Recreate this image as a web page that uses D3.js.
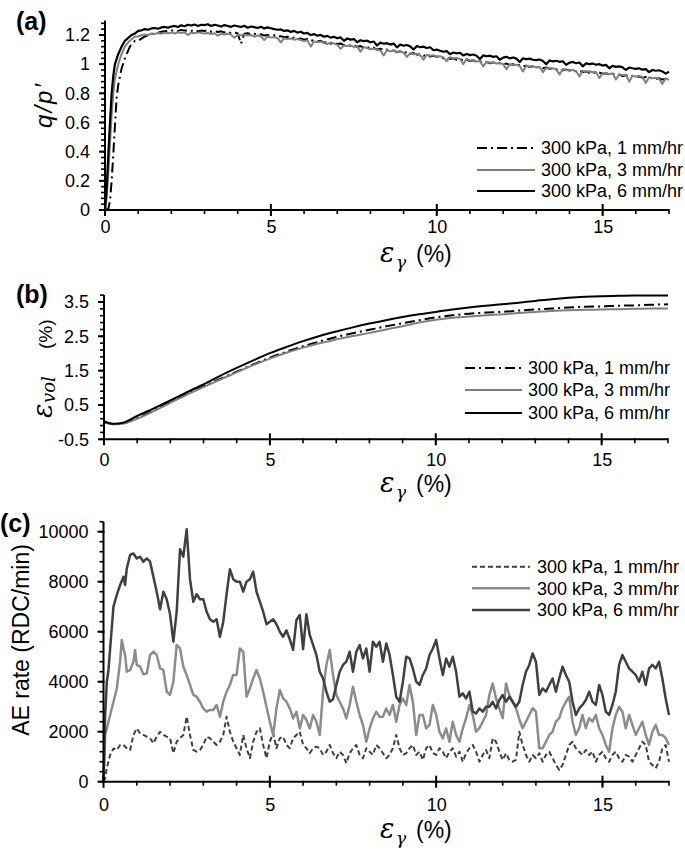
<!DOCTYPE html>
<html><head><meta charset="utf-8">
<script src="https://cdn.jsdelivr.net/npm/d3@7"></script>
<style>body{margin:0;background:#fff}</style>
</head><body>
<svg id="chart" width="685" height="850"></svg>
<script>
// ---------------- DATA ----------------
const seriesLabels = ["300 kPa, 1 mm/hr", "300 kPa, 3 mm/hr", "300 kPa, 6 mm/hr"];
const xTicks = [0, 5, 10, 15];
const qTicks = [0, 0.2, 0.4, 0.6, 0.8, 1, 1.2];
const volTicks = [-0.5, 0.5, 1.5, 2.5, 3.5];
const aeTicks = [0, 2000, 4000, 6000, 8000, 10000];

// Tail arrays are sampled every strainStep (%) starting at tailStart (%)
const tailStart = 1.0;
const strainStep = 0.1;

// (a) q/p' : early rise as [strain, value] pairs, then tail
const qRise1 = [[0,0],[0.1,0.01],[0.15,0.06],[0.2,0.2],[0.25,0.38],[0.3,0.58],[0.35,0.77],[0.4,0.86],[0.5,0.97],[0.6,1.04],[0.75,1.12],[0.9,1.16]];
const qRise3 = [[0,0],[0.05,0.08],[0.1,0.25],[0.15,0.45],[0.2,0.65],[0.25,0.8],[0.3,0.9],[0.4,1.0],[0.5,1.07],[0.6,1.12],[0.7,1.15],[0.8,1.17],[0.9,1.19]];
const qRise6 = [[0,0],[0.05,0.15],[0.1,0.38],[0.15,0.6],[0.2,0.8],[0.25,0.92],[0.3,1.0],[0.4,1.07],[0.5,1.12],[0.6,1.16],[0.7,1.18],[0.8,1.2],[0.9,1.21]];
const qTail1 = [
1.160,1.175,1.190,1.198,1.205,1.212,1.215,1.222,1.225,1.228,
1.230,1.232,1.228,1.235,1.230,1.232,1.228,1.235,1.225,1.230,
1.228,1.232,1.222,1.228,1.220,1.225,1.218,1.222,1.212,1.218,
1.210,1.140,1.208,1.212,1.205,1.208,1.200,1.205,1.196,1.200,
1.195,1.198,1.188,1.192,1.185,1.188,1.178,1.182,1.172,1.176,
1.168,1.172,1.160,1.165,1.155,1.160,1.148,1.152,1.140,1.146,
1.138,1.142,1.130,1.136,1.125,1.130,1.118,1.124,1.112,1.118,
1.108,1.112,1.100,1.106,1.095,1.100,1.088,1.094,1.082,1.088,
1.078,1.082,1.070,1.076,1.065,1.070,1.058,1.064,1.052,1.058,
1.050,1.054,1.040,1.046,1.036,1.040,1.030,1.035,1.025,1.030,
1.022,1.026,1.015,1.020,1.012,1.016,1.006,1.012,1.002,1.008,
1.000,1.004,0.995,1.000,0.990,0.995,0.985,0.990,0.980,0.986,
0.978,0.982,0.972,0.978,0.968,0.972,0.962,0.968,0.958,0.964,
0.956,0.960,0.950,0.956,0.946,0.950,0.940,0.946,0.936,0.942,
0.934,0.938,0.928,0.934,0.924,0.928,0.918,0.924,0.914,0.920,
0.912,0.916,0.906,0.912,0.902,0.906,0.898,0.904,0.894,0.900,
0.892];
const qTail3 = [
1.190,1.198,1.204,1.200,1.210,1.207,1.213,1.209,1.216,1.212,
1.216,1.210,1.219,1.214,1.218,1.200,1.216,1.212,1.218,1.213,
1.210,1.214,1.206,1.212,1.195,1.208,1.204,1.209,1.203,1.180,
1.202,1.198,1.203,1.196,1.200,1.188,1.196,1.191,1.165,1.190,
1.182,1.186,1.178,1.150,1.178,1.172,1.176,1.168,1.173,1.166,
1.158,1.163,1.120,1.156,1.150,1.154,1.145,1.138,1.149,1.142,
1.132,1.105,1.128,1.124,1.129,1.118,1.122,1.085,1.118,1.110,
1.102,1.106,1.099,1.094,1.060,1.095,1.088,1.092,1.084,1.087,
1.078,1.050,1.075,1.068,1.072,1.062,1.030,1.065,1.058,1.061,
1.052,1.055,1.046,1.020,1.048,1.040,1.043,1.035,1.000,1.038,
1.024,1.028,1.018,1.022,0.985,1.015,1.010,1.013,1.004,1.008,
1.000,0.965,0.998,0.992,0.996,0.988,0.950,0.990,0.982,0.986,
0.977,0.980,0.945,0.974,0.968,0.972,0.964,0.930,0.966,0.960,
0.957,0.960,0.952,0.915,0.954,0.948,0.951,0.944,0.947,0.905,
0.936,0.940,0.932,0.936,0.895,0.930,0.925,0.928,0.880,0.920,
0.916,0.919,0.912,0.870,0.910,0.904,0.907,0.900,0.865,0.902,
0.893];
const qTail6 = [
1.228,1.232,1.240,1.236,1.245,1.248,1.243,1.252,1.255,1.250,
1.258,1.262,1.255,1.266,1.260,1.270,1.265,1.272,1.262,1.270,
1.268,1.274,1.262,1.270,1.265,1.258,1.268,1.262,1.256,1.265,
1.260,1.255,1.263,1.250,1.258,1.254,1.248,1.256,1.245,1.252,
1.246,1.240,1.236,1.238,1.228,1.232,1.221,1.228,1.216,1.222,
1.210,1.214,1.200,1.206,1.195,1.201,1.188,1.194,1.182,1.188,
1.178,1.184,1.160,1.176,1.168,1.172,1.150,1.164,1.158,1.161,
1.150,1.155,1.128,1.148,1.140,1.144,1.134,1.141,1.115,1.134,
1.126,1.131,1.122,1.100,1.124,1.116,1.120,1.111,1.116,1.095,
1.100,1.092,1.085,1.089,1.068,1.080,1.074,1.078,1.060,1.070,
1.062,1.066,1.058,1.035,1.060,1.054,1.058,1.050,1.054,1.030,
1.045,1.050,1.040,1.046,1.038,1.015,1.040,1.034,1.038,1.030,
1.028,1.032,1.022,1.000,1.025,1.019,1.023,1.016,1.020,0.995,
1.010,1.015,1.006,1.011,0.985,1.005,1.000,1.004,0.996,1.000,
0.990,0.995,0.972,0.988,0.981,0.985,0.978,0.960,0.977,0.972,
0.968,0.972,0.962,0.966,0.945,0.960,0.955,0.958,0.950,0.935,
0.948];

// (b) volumetric strain
const volStrain = [0,0.3,0.6,1,1.5,2,2.5,3,3.5,4,4.5,5,5.5,6,6.5,7,7.5,8,8.5,9,9.5,10,10.5,11,11.5,12,12.5,13,13.5,14,14.5,15,15.5,16,16.5,17];
const vol1 = [0.0,-0.06,-0.03,0.12,0.34,0.58,0.82,1.04,1.26,1.47,1.68,1.88,2.05,2.21,2.35,2.48,2.59,2.69,2.79,2.88,2.97,3.05,3.11,3.16,3.19,3.21,3.25,3.28,3.31,3.34,3.36,3.37,3.39,3.40,3.42,3.43];
const vol3 = [0.0,-0.06,-0.04,0.10,0.32,0.56,0.80,1.02,1.24,1.45,1.66,1.85,2.02,2.17,2.30,2.41,2.51,2.60,2.70,2.79,2.90,2.98,3.04,3.08,3.11,3.14,3.18,3.21,3.24,3.26,3.27,3.28,3.29,3.30,3.31,3.31];
const vol6 = [0.02,-0.05,-0.01,0.18,0.40,0.63,0.87,1.10,1.35,1.58,1.80,2.01,2.19,2.36,2.51,2.64,2.76,2.87,2.97,3.06,3.14,3.21,3.28,3.34,3.39,3.43,3.48,3.53,3.58,3.62,3.65,3.67,3.68,3.69,3.69,3.69];

// (c) AE rate
const aeRise1 = [[0,0],[0.05,140],[0.1,540],[0.2,1070],[0.3,1330],[0.4,1270],[0.5,1470],[0.6,1470],[0.7,1340],[0.8,1270],[0.9,1870]];
const aeRise3 = [[0,0],[0.05,1870],[0.1,2130],[0.2,2670],[0.3,3200],[0.4,3730],[0.5,4800],[0.55,5670],[0.6,5330],[0.65,5070],[0.7,4400],[0.8,4470],[0.9,4800],[0.95,5270]];
const aeRise6 = [[0,0],[0.05,2670],[0.1,4000],[0.15,4470],[0.2,5340],[0.3,7000],[0.4,7470],[0.5,7870],[0.6,8200],[0.65,7870],[0.7,8530],[0.8,9070],[0.9,9130]];
const aeTail1 = [
2130,1940,1870,1800,1740,1540,1800,2000,1870,1800,
1740,1140,1600,1740,1870,2600,1870,1270,1200,1270,
1470,1800,1740,1600,1470,1600,1870,2600,2000,1600,
1340,1070,1870,1340,940,1600,2000,2140,1470,940,
1600,1940,1340,1740,1800,1470,1340,1740,1870,2000,
1470,1340,1140,1340,1400,1340,1070,1200,1470,1140,
940,1200,1070,740,1140,1340,1470,1070,940,1340,
1200,1070,1470,1340,1140,940,1070,1340,1870,1340,
1070,1140,1340,1470,1070,1200,870,1340,1470,1140,
1070,1340,1200,940,1200,1340,1000,1200,800,1140,
1340,1470,1200,800,1070,1270,940,1740,1600,1200,
870,1140,870,800,870,2000,1470,1070,800,1070,
940,1140,800,1070,1200,940,670,470,670,1070,
1470,1600,1340,1200,1070,1270,1070,1200,800,1070,
1200,940,800,1070,1200,940,800,1070,1000,800,
1070,1340,1600,1470,800,670,540,800,1340,1470,
800];
const aeTail3 = [
4670,4600,4300,4330,5070,5200,5070,4530,4470,3600,
3470,4000,5470,5330,4600,4270,3870,3470,3400,3200,
2930,2800,2870,2870,3070,2600,3200,3600,3870,4270,
4270,5330,5200,3400,3730,4130,4470,4130,3600,3000,
2400,1870,2930,3670,3330,3200,2930,2530,2800,2130,
2670,2470,2130,2670,2400,1870,3600,4670,5270,4270,
3470,3200,2930,2530,3070,3800,3200,2670,2270,1600,
2130,2530,2800,2600,2600,2930,2670,3070,2400,3070,
3330,3070,3870,3200,1870,2670,2670,2130,2270,3070,
2670,2000,1730,2130,1600,2400,1870,1600,2130,2540,
3070,2670,2000,2140,2400,2670,3470,3930,3330,2930,
2540,3930,3470,3200,2930,2500,2140,2400,2670,2940,
2800,1340,1340,1600,1870,2000,2400,2540,2940,3200,
3400,2400,1870,2140,2670,2140,2540,2400,2670,2140,
1870,1470,1200,2140,2670,3000,2800,2140,2670,2270,
1870,2140,2400,1870,1470,2000,2270,1870,1870,1740,
1470];
const aeTail6 = [
8930,9000,8800,8930,8800,8200,7600,6900,7600,7300,
6700,5600,6800,9300,9000,10100,8100,7200,7500,7300,
7300,6800,6500,6400,6500,5800,6400,7500,8500,8100,
8000,8000,7600,8000,8100,8400,7600,7200,6800,6300,
6400,6500,6300,6000,5800,6050,5700,5270,6470,6670,
5300,6700,5870,5470,5070,4400,4130,3600,3200,3300,
3870,4400,4670,4800,5200,4400,5200,5470,4930,5330,
4400,5600,5400,5600,4800,5530,5070,4270,3400,3200,
4000,5000,4930,4530,4000,3870,4270,4530,5070,5330,
5670,4930,4270,4930,4600,5000,4400,3400,3530,3330,
3600,2800,2730,2930,2800,3000,3000,3200,2930,3270,
3470,3200,3400,3200,3000,3200,3870,4400,4670,5130,
4800,3470,3730,3600,3870,4130,3600,4130,4600,4270,
4000,3200,2670,2930,3070,3270,3600,3200,3070,3870,
3470,2800,2670,3070,3600,4670,5070,4800,4530,4400,
4270,4000,4400,3870,4530,4670,4530,4800,4130,3330,
2670];

// ---------------- DRAWING ----------------
const SANS = "'Liberation Sans', Arial, sans-serif";
const SERIF = "'DejaVu Serif', 'Liberation Serif', serif";
const svg = d3.select("#chart");

function buildSeries(rise, tail) {
  return rise.concat(tail.map((v, i) => [+(tailStart + i * strainStep).toFixed(2), v]));
}

function drawAxes(x, y, c) {
  const g = svg.append("g");
  const x0 = x.range()[0], yb = y.range()[0];
  g.selectAll(null).data(c.xMinor).join("line")
    .attr("x1", d => x(d)).attr("x2", d => x(d)).attr("y1", yb - 1).attr("y2", yb + 4)
    .attr("stroke", "#000").attr("stroke-width", 1.6);
  g.selectAll(null).data(c.yMinor).join("line")
    .attr("x1", x0 - 4).attr("x2", x0).attr("y1", d => y(d)).attr("y2", d => y(d))
    .attr("stroke", "#000").attr("stroke-width", 1.6);
  g.selectAll(null).data(xTicks).join("line")
    .attr("x1", d => x(d)).attr("x2", d => x(d)).attr("y1", yb - 6).attr("y2", yb + 6)
    .attr("stroke", "#000").attr("stroke-width", 2);
  g.selectAll(null).data(c.yTicks).join("line")
    .attr("x1", x0 - 6).attr("x2", x0 + 1).attr("y1", d => y(d)).attr("y2", d => y(d))
    .attr("stroke", "#000").attr("stroke-width", 2);
  const gx = g.append("g").attr("transform", `translate(0,${yb})`)
    .call(d3.axisBottom(x).tickValues(xTicks).tickSize(0).tickPadding(c.xPad).tickFormat(d => String(d)));
  gx.select(".domain").remove();
  gx.attr("font-size", 18).attr("font-family", SANS);
  const gy = g.append("g").attr("transform", `translate(${x0},0)`)
    .call(d3.axisLeft(y).tickValues(c.yTicks).tickSize(0).tickPadding(15).tickFormat(d => String(d)));
  gy.select(".domain").remove();
  gy.attr("font-size", 18).attr("font-family", SANS);
  g.append("line").attr("x1", x0).attr("x2", x.range()[1]).attr("y1", yb).attr("y2", yb)
    .attr("stroke", "#000").attr("stroke-width", 2);
  g.append("line").attr("x1", x0).attr("x2", x0).attr("y1", yb + 1).attr("y2", y.range()[1])
    .attr("stroke", "#000").attr("stroke-width", 2);
}

function xTitle(xs, baseline) {
  const t = svg.append("g");
  t.append("text").attr("x", xs).attr("y", baseline).attr("font-family", SERIF)
    .attr("font-style", "italic").attr("font-size", 27).text("ε");
  t.append("text").attr("x", xs + 16).attr("y", baseline + 6).attr("font-family", SERIF)
    .attr("font-style", "italic").attr("font-size", 17).text("γ");
  t.append("text").attr("x", xs + 36).attr("y", baseline).attr("font-family", SANS)
    .attr("font-size", 23).text("(%)");
}

function panelLabel(txt, x, y) {
  svg.append("text").attr("x", x).attr("y", y).attr("font-family", SANS)
    .attr("font-weight", "bold").attr("font-size", 25).text(txt);
}

function legend(x1, x2, tx, rows, styles) {
  rows.forEach((ry, i) => {
    const s = styles[i];
    svg.append("line").attr("x1", x1).attr("x2", x2).attr("y1", ry).attr("y2", ry)
      .attr("stroke", s.color).attr("stroke-width", s.width)
      .attr("stroke-dasharray", s.dash || null);
    svg.append("text").attr("x", tx).attr("y", ry).attr("dy", "0.35em")
      .attr("font-family", SANS).attr("font-size", 18).text(seriesLabels[i]);
  });
}

// ---- Panel (a)
{
  const x = d3.scaleLinear().domain([0, 17]).range([105, 669]);
  const y = d3.scaleLinear().domain([0, 1.3]).range([210, 20.4]);
  const line = d3.line().x(d => x(d[0])).y(d => y(d[1]));
  const styles = [
    {color: "#000", width: 2, dash: "10,4,2,4"},
    {color: "#808080", width: 2},
    {color: "#000", width: 2.2}
  ];
  const data = [buildSeries(qRise1, qTail1), buildSeries(qRise3, qTail3), buildSeries(qRise6, qTail6)];
  data.forEach((d, i) => {
    svg.append("path").datum(d).attr("d", line).attr("fill", "none")
      .attr("stroke", styles[i].color).attr("stroke-width", styles[i].width)
      .attr("stroke-dasharray", styles[i].dash || null).attr("stroke-linejoin", "round");
  });
  drawAxes(x, y, {xMinor: d3.range(1, 18, 1), yMinor: d3.range(0, 1.3, 0.04), yTicks: qTicks, xPad: 10});
  xTitle(380, 262);
  panelLabel("(a)", 16, 30);
  svg.append("text").attr("transform", "translate(52,105) rotate(-90)")
    .attr("text-anchor", "middle").attr("font-family", SANS).attr("font-style", "italic")
    .attr("font-size", 24).attr("letter-spacing", 2).text("q/p′");
  legend(477, 535, 541, [148, 170, 191], styles.map(s => ({...s, width: 2})));
}

// ---- Panel (b)
{
  const x = d3.scaleLinear().domain([0, 17]).range([104, 668]);
  const y = d3.scaleLinear().domain([-0.5, 3.7]).range([439.3, 295.1]);
  const line = d3.line().curve(d3.curveMonotoneX).x(d => x(d[0])).y(d => y(d[1]));
  const styles = [
    {color: "#000", width: 2, dash: "10,4,2,4"},
    {color: "#808080", width: 2},
    {color: "#000", width: 2}
  ];
  [vol1, vol3, vol6].forEach((vals, i) => {
    const d = volStrain.map((s, j) => [s, vals[j]]);
    svg.append("path").datum(d).attr("d", line).attr("fill", "none")
      .attr("stroke", styles[i].color).attr("stroke-width", styles[i].width)
      .attr("stroke-dasharray", styles[i].dash || null);
  });
  drawAxes(x, y, {xMinor: d3.range(1, 18, 1), yMinor: d3.range(-0.5, 3.71, 0.2), yTicks: volTicks, xPad: 14});
  xTitle(380, 492);
  panelLabel("(b)", 16, 303);
  const t = svg.append("g").attr("transform", "translate(52,0) rotate(-90)");
  t.append("text").attr("x", -418).attr("y", 0).attr("font-family", SERIF).attr("font-style", "italic")
    .attr("font-size", 27).text("ε");
  t.append("text").attr("x", -403).attr("y", 3).attr("font-family", SERIF).attr("font-style", "italic")
    .attr("font-size", 18).text("vol");
  t.append("text").attr("x", -349).attr("y", 0).attr("font-family", SANS)
    .attr("font-size", 19).text("(%)");
  legend(465, 522, 528, [368, 390, 413], styles);
}

// ---- Panel (c)
{
  const x = d3.scaleLinear().domain([0, 17]).range([103.5, 669]);
  const y = d3.scaleLinear().domain([0, 10400]).range([781.7, 521.7]);
  const line = d3.line().x(d => x(d[0])).y(d => y(d[1]));
  const styles = [
    {color: "#404040", width: 2, dash: "5,3"},
    {color: "#8c8c8c", width: 2.5},
    {color: "#404040", width: 2.5}
  ];
  const data = [buildSeries(aeRise1, aeTail1), buildSeries(aeRise3, aeTail3), buildSeries(aeRise6, aeTail6)];
  data.forEach((d, i) => {
    svg.append("path").datum(d).attr("d", line).attr("fill", "none")
      .attr("stroke", styles[i].color).attr("stroke-width", styles[i].width)
      .attr("stroke-dasharray", styles[i].dash || null).attr("stroke-linejoin", "round");
  });
  drawAxes(x, y, {xMinor: d3.range(1, 18, 1), yMinor: d3.range(0, 10401, 400), yTicks: aeTicks, xPad: 16.5});
  xTitle(380, 838);
  panelLabel("(c)", 0, 532);
  svg.append("text").attr("transform", "translate(29,640) rotate(-90)")
    .attr("text-anchor", "middle").attr("font-family", SANS)
    .attr("font-size", 23).text("AE rate (RDC/min)");
  legend(472, 530, 537, [566.7, 588.3, 610], styles);
}
</script>
</body></html>
